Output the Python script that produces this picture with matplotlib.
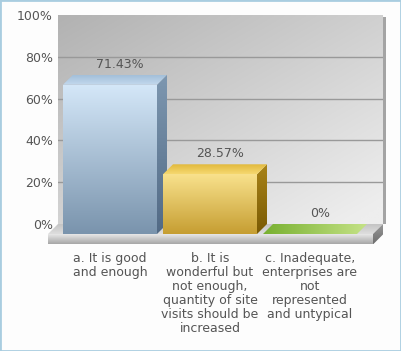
import numpy as np
import matplotlib
matplotlib.use('Agg')
import matplotlib.pyplot as plt
from matplotlib.patches import Polygon, Rectangle
from matplotlib.colors import to_rgb

categories = ["a. It is good\nand enough",
              "b. It is\nwonderful but\nnot enough,\nquantity of site\nvisits should be\nincreased",
              "c. Inadequate,\nenterprises are\nnot\nrepresented\nand untypical"]
values = [71.43, 28.57, 0.0]
value_labels = ["71.43%", "28.57%", "0%"]
yticks = [0, 20, 40, 60, 80, 100]
ytick_labels = ["0%", "20%", "40%", "60%", "80%", "100%"]

front_top = ["#d4e7f8", "#f8e18c", "#9ccc50"]
front_bot = ["#7a94ad", "#c69e32", "#7fb032"]
side_top = ["#7d97b0", "#a88318", "#6a9a28"]
side_bot = ["#526a85", "#7a5a04", "#4f7a18"]
top_back = ["#a3bfd9", "#e2b93c", "#78b030"]
top_front = ["#c3d9ee", "#f5d870", "#c4e286"]

W, H = 401, 351
fig = plt.figure(figsize=(W / 100, H / 100), dpi=100)
fig.patch.set_facecolor('#fdfdfd')
ax = fig.add_axes([58 / W, (H - 224) / H, 325 / W, 209 / H])

XL, XR = -0.62, 2.63
DX = -0.10
DY = -10 / 2.09
BW = 0.94
FT = 5.0
FS = 9


def grad_poly(verts, c1, c2, z, horizontal=False):
    verts = np.array(verts, dtype=float)
    poly = Polygon(verts, closed=True, facecolor='none', edgecolor='none',
                   transform=ax.transData, clip_on=False)
    ax.add_patch(poly)
    x0, x1 = verts[:, 0].min(), verts[:, 0].max()
    y0, y1 = verts[:, 1].min(), verts[:, 1].max()
    t = np.linspace(0, 1, 64)
    a, b = np.array(to_rgb(c1)), np.array(to_rgb(c2))
    g = a[None, :] * (1 - t[:, None]) + b[None, :] * t[:, None]
    img = g[None, :, :] if horizontal else g[:, None, :]
    im = ax.imshow(img, extent=(x0, x1, y0, y1), origin='upper', aspect='auto',
                   zorder=z, interpolation='bilinear')
    im.set_clip_path(poly)
    im.set_clip_box(fig.bbox)
    return im


# back wall gradient
n = 80
u = np.linspace(0, 1, n)
U, V = np.meshgrid(u, u)
s = np.clip(0.5 * U + 0.55 * V, 0, 1)
ca, cb = np.array(to_rgb("#b2b2b2")), np.array(to_rgb("#eeeeee"))
wall = ca[None, None, :] * (1 - s[..., None]) + cb[None, None, :] * s[..., None]
ax.imshow(wall, extent=(XL, XR, 0, 100), origin='upper', aspect='auto', zorder=0,
          interpolation='bilinear')
ax.add_patch(Rectangle((XR, 0), 0.025, 99, facecolor='#a4a4a4', edgecolor='none',
                       clip_on=False, zorder=0.5))

for yv in yticks[1:-1]:
    ax.axhline(yv, color='#999999', lw=1.0, zorder=1)

# floor
grad_poly([(XL, 0), (XR, 0), (XR + DX, DY), (XL + DX, DY)], "#c4c4c4", "#dedede", 2)
grad_poly([(XL + DX, DY), (XR + DX, DY), (XR + DX, DY - FT), (XL + DX, DY - FT)],
          "#eeeeee", "#a6a6a6", 2)
grad_poly([(XR + DX, DY), (XR, 0), (XR, -FT), (XR + DX, DY - FT)], "#9a9a9a", "#6e6e6e", 2)

# bars
for i, v in enumerate(values):
    xl = i + DX - BW / 2
    xr = i + DX + BW / 2
    if v > 0:
        grad_poly([(xl, DY), (xr, DY), (xr, v + DY), (xl, v + DY)],
                  front_top[i], front_bot[i], 3)
        grad_poly([(xr, DY), (xr - DX, 0), (xr - DX, v), (xr, v + DY)],
                  side_top[i], side_bot[i], 3)
        grad_poly([(xl, v + DY), (xr, v + DY), (xr - DX, v), (xl - DX, v)],
                  top_back[i], top_front[i], 3.1)
    else:
        grad_poly([(xl, v + DY), (xr, v + DY), (xr - DX, v), (xl - DX, v)],
                  top_back[i], top_front[i], 3.1, horizontal=True)
    ax.annotate(value_labels[i], (i, v), xytext=(0, 3), textcoords='offset points',
                ha='center', va='bottom', fontsize=FS, color='#555555', zorder=5,
                annotation_clip=False)
    ax.text(i + DX, -13.3, categories[i], ha='center', va='top', fontsize=FS,
            color='#555555', linespacing=1.1, zorder=5, clip_on=False)

ax.set_xlim(XL, XR)
ax.set_ylim(0, 100)
ax.set_yticks(yticks)
ax.set_yticklabels(ytick_labels)
ax.set_xticks([])
ax.tick_params(axis='y', length=0, pad=3.6, labelsize=FS, labelcolor='#555555')
for sp in ax.spines.values():
    sp.set_visible(False)

fig.add_artist(Rectangle((0, 0), 1, 1, transform=fig.transFigure, facecolor='none',
                         edgecolor='#a9cde0', lw=2.0, zorder=10))

fig.savefig('out.png', dpi=100, facecolor=fig.get_facecolor())
